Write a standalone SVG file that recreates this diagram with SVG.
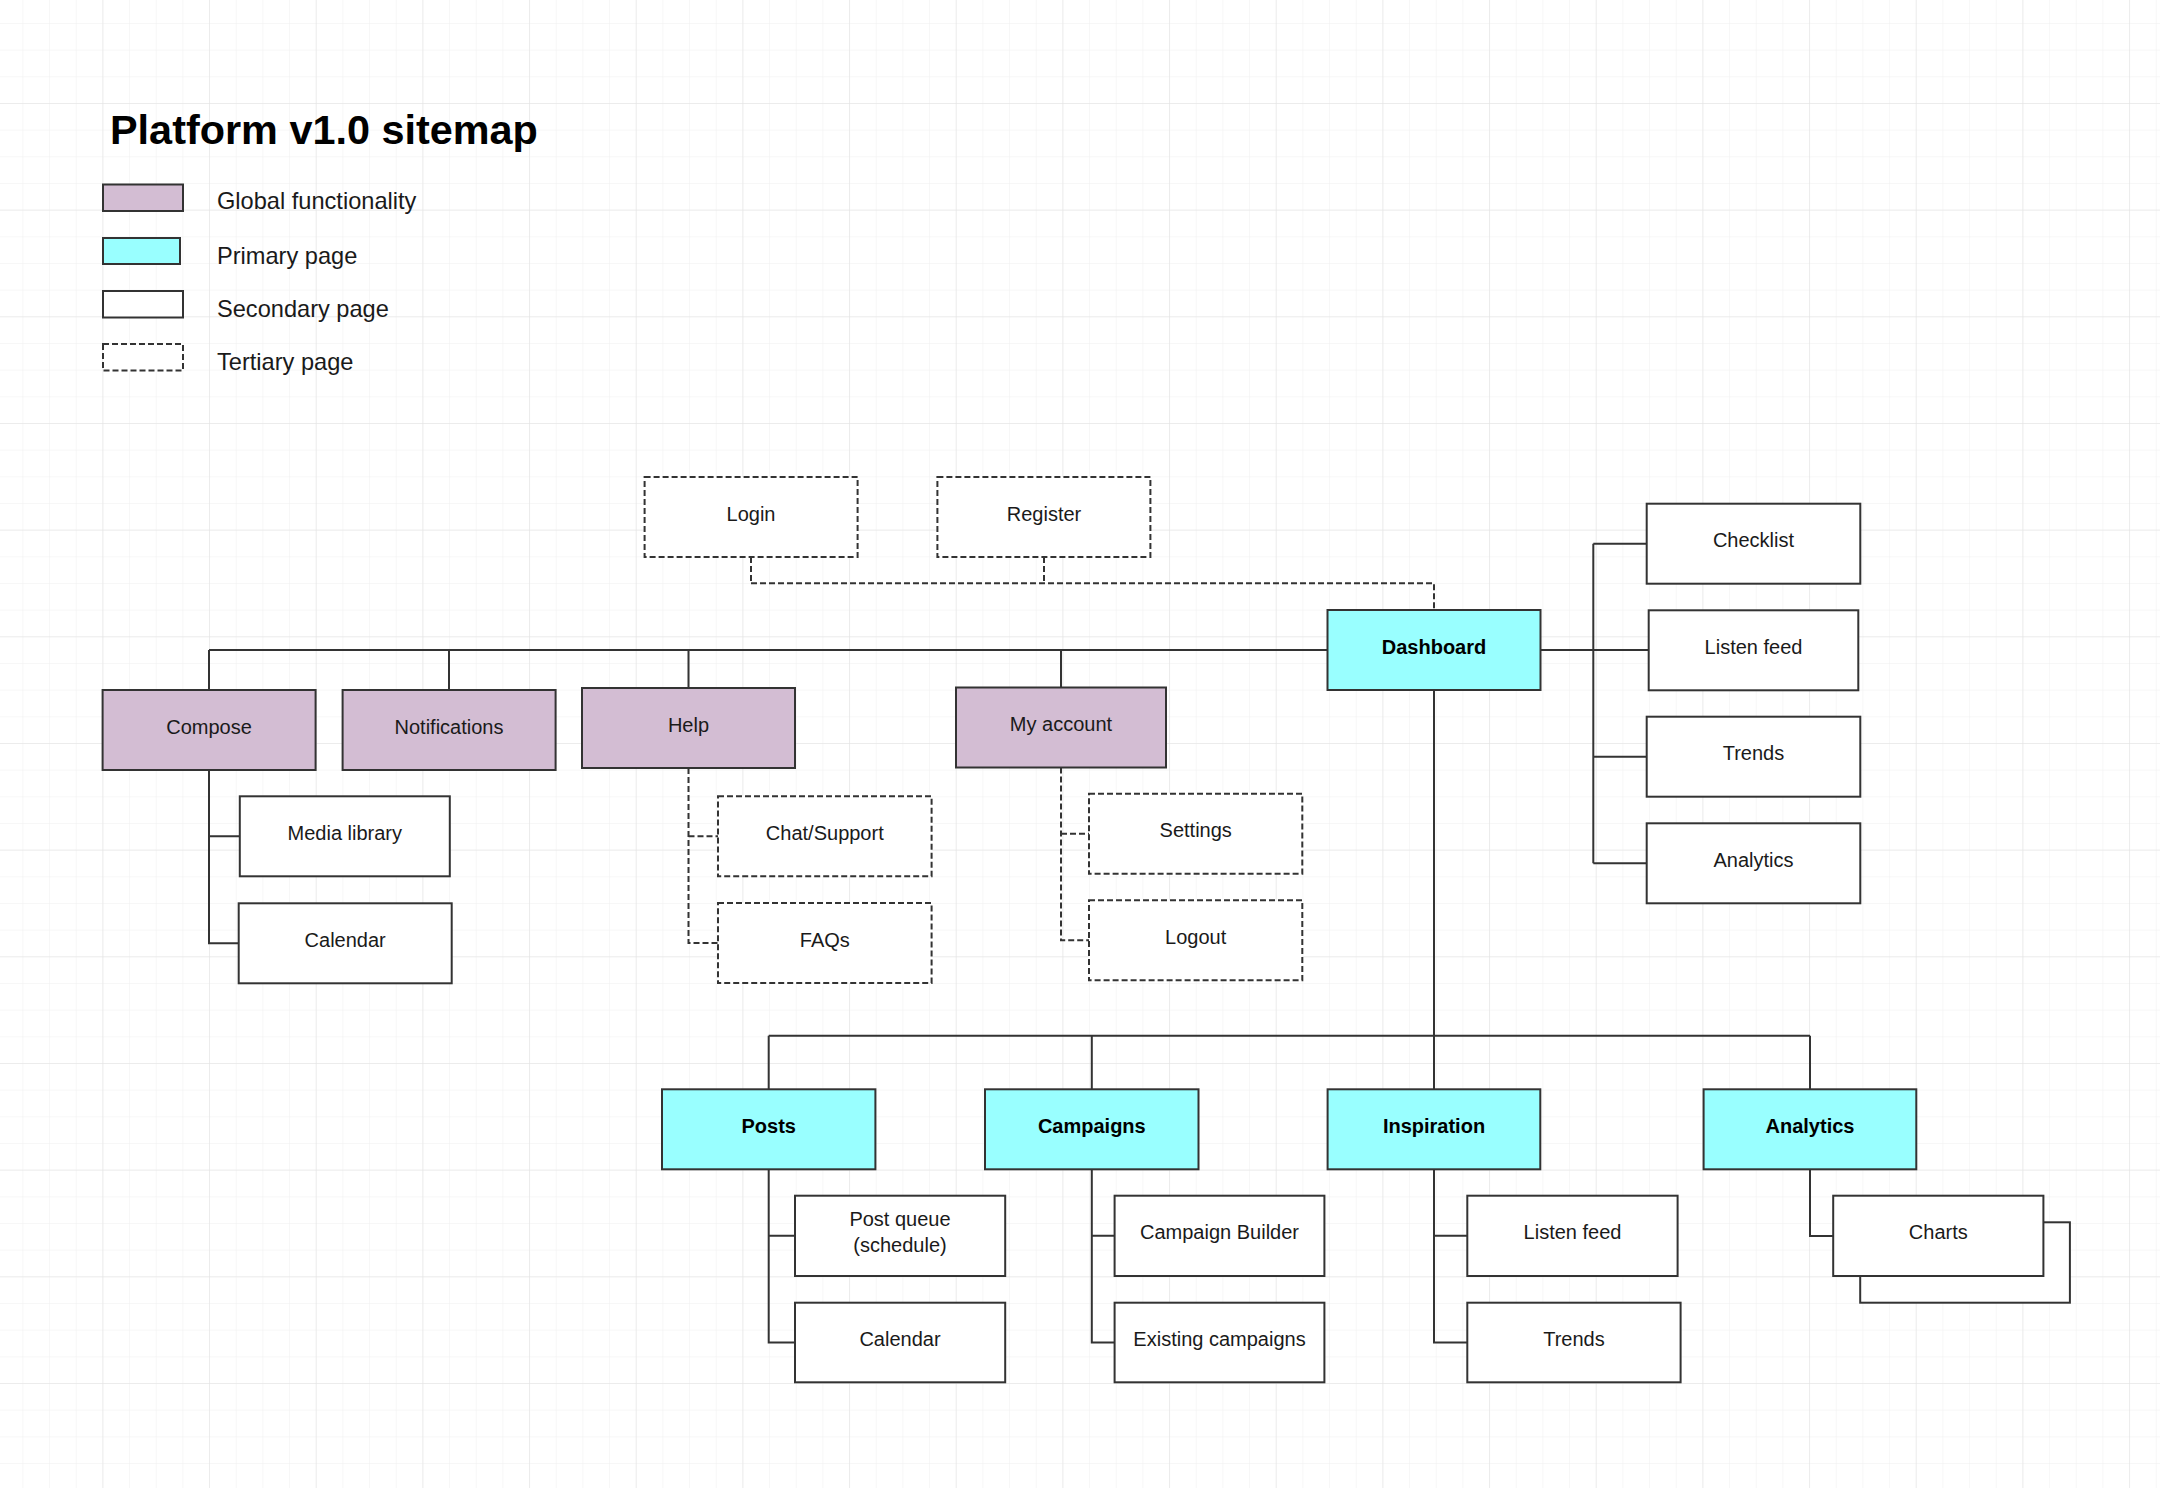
<svg xmlns="http://www.w3.org/2000/svg" width="2160" height="1488" viewBox="0 0 2160 1488">
<style>
.nd{stroke:#333;stroke-width:2}
.global{fill:#d3bdd3}
.primary{fill:#99ffff}
.secondary{fill:#fff}
.tertiary{fill:#fff;stroke-dasharray:6 3}
.lbl{font-family:"Liberation Sans",Arial,sans-serif;font-size:20px;fill:#1a1a1a;text-anchor:middle}
.b{font-weight:bold;fill:#000}
.conn{stroke:#333;stroke-width:2;fill:none}
.dash{stroke-dasharray:6 3}
.leg{font-family:"Liberation Sans",Arial,sans-serif;font-size:23.6px;fill:#1a1a1a}
</style>
<defs>
<pattern id="minor" patternUnits="userSpaceOnUse" x="-3.3" y="-2.7" width="26.667" height="26.667">
<path d="M26.667 0V26.667M0 26.667H26.667" stroke="#f0f0f0" stroke-width="1" fill="none"/>
</pattern>
<pattern id="major" patternUnits="userSpaceOnUse" x="-3.3" y="-2.7" width="106.667" height="106.667">
<path d="M106.667 0V106.667M0 106.667H106.667" stroke="#e2e2e2" stroke-width="1" fill="none"/>
</pattern>
</defs>
<rect width="2160" height="1488" fill="#fff"/>
<rect width="2160" height="1488" fill="url(#minor)"/>
<rect width="2160" height="1488" fill="url(#major)"/>

<g id="title">
<text x="110" y="144" font-family="Liberation Sans, Arial, sans-serif" font-size="41.4" font-weight="bold" fill="#000">Platform v1.0 sitemap</text>
</g>
<g id="legend">
<rect class="nd global" x="103" y="184.5" width="80" height="26.5"/>
<text class="leg" x="217" y="209">Global functionality</text>
<rect class="nd primary" x="103" y="238" width="77" height="26"/>
<text class="leg" x="217" y="263.5">Primary page</text>
<rect class="nd secondary" x="103" y="291" width="80" height="26.5"/>
<text class="leg" x="217" y="316.5">Secondary page</text>
<rect class="nd tertiary" x="103" y="344" width="80" height="26.5"/>
<text class="leg" x="217" y="369.5">Tertiary page</text>
</g>

<g id="connectors">
<path class="conn dash" d="M751 557V583.3M1044 557V583.3M751 583.3H1434V610"/>
<path class="conn" d="M209 650H1327.5M209 650V690M449 650V690M688.5 650V688M1061 650V687.5"/>
<path class="conn" d="M1540.3 650H1648.7M1593.3 543.7V863.3M1593.3 543.7H1646.7M1593.3 756.7H1646.7M1593.3 863.3H1646.7"/>
<path class="conn" d="M1434 690V1089.3M768.7 1035.7H1810M768.7 1035.7V1089.3M1091.8 1035.7V1089.3M1810 1035.7V1089.3"/>
<path class="conn" d="M209 770V943.3H238.7M209 836.3H239.8"/>
<path class="conn dash" d="M688.5 768V943H718M688.5 836.3H718"/>
<path class="conn dash" d="M1061 767.5V940.3H1089M1061 833.7H1089"/>
<path class="conn" d="M768.7 1169.3V1342.5H795M768.7 1235.8H795"/>
<path class="conn" d="M1091.8 1169.3V1342.5H1114.6M1091.8 1235.8H1114.6"/>
<path class="conn" d="M1434 1169.3V1342.5H1467.3M1434 1235.8H1467.3"/>
<path class="conn" d="M1810 1169.3V1236H1833.2"/>
</g>

<g id="login"><rect class="nd tertiary" x="644.6" y="477" width="213" height="80"/><text class="lbl" x="751" y="520.5">Login</text></g>
<g id="register"><rect class="nd tertiary" x="937.4" y="477" width="213" height="80"/><text class="lbl" x="1044" y="520.5">Register</text></g>
<g id="dashboard"><rect class="nd primary" x="1327.5" y="610" width="213" height="80"/><text class="lbl b" x="1434" y="653.5">Dashboard</text></g>

<g id="compose"><rect class="nd global" x="102.6" y="690" width="213" height="80"/><text class="lbl" x="209" y="733.5">Compose</text></g>
<g id="notifications"><rect class="nd global" x="342.6" y="690" width="213" height="80"/><text class="lbl" x="449" y="733.5">Notifications</text></g>
<g id="help"><rect class="nd global" x="582" y="688" width="213" height="80"/><text class="lbl" x="688.5" y="731.5">Help</text></g>
<g id="my-account"><rect class="nd global" x="956" y="687.5" width="210" height="80"/><text class="lbl" x="1061" y="731">My account</text></g>

<g id="media-library"><rect class="nd secondary" x="239.8" y="796.3" width="210" height="80"/><text class="lbl" x="344.8" y="839.8">Media library</text></g>
<g id="calendar-compose"><rect class="nd secondary" x="238.7" y="903.3" width="213" height="80"/><text class="lbl" x="345.2" y="946.8">Calendar</text></g>
<g id="chat-support"><rect class="nd tertiary" x="718" y="796.3" width="213.6" height="80"/><text class="lbl" x="824.8" y="839.8">Chat/Support</text></g>
<g id="faqs"><rect class="nd tertiary" x="718" y="903" width="213.6" height="80"/><text class="lbl" x="824.8" y="946.5">FAQs</text></g>
<g id="settings"><rect class="nd tertiary" x="1089" y="793.7" width="213.3" height="80"/><text class="lbl" x="1195.7" y="837.2">Settings</text></g>
<g id="logout"><rect class="nd tertiary" x="1089" y="900.3" width="213.3" height="80"/><text class="lbl" x="1195.7" y="943.8">Logout</text></g>

<g id="checklist"><rect class="nd secondary" x="1646.7" y="503.7" width="213.6" height="80"/><text class="lbl" x="1753.5" y="547.2">Checklist</text></g>
<g id="listen-feed-top"><rect class="nd secondary" x="1648.7" y="610.3" width="209.6" height="80"/><text class="lbl" x="1753.5" y="653.8">Listen feed</text></g>
<g id="trends-top"><rect class="nd secondary" x="1646.7" y="716.7" width="213.6" height="80"/><text class="lbl" x="1753.5" y="760.2">Trends</text></g>
<g id="analytics-top"><rect class="nd secondary" x="1646.7" y="823.3" width="213.6" height="80"/><text class="lbl" x="1753.5" y="866.8">Analytics</text></g>

<g id="posts"><rect class="nd primary" x="662" y="1089.3" width="213.4" height="80"/><text class="lbl b" x="768.7" y="1132.8">Posts</text></g>
<g id="campaigns"><rect class="nd primary" x="985" y="1089.3" width="213.5" height="80"/><text class="lbl b" x="1091.8" y="1132.8">Campaigns</text></g>
<g id="inspiration"><rect class="nd primary" x="1327.6" y="1089.3" width="212.7" height="80"/><text class="lbl b" x="1434" y="1132.8">Inspiration</text></g>
<g id="analytics"><rect class="nd primary" x="1703.6" y="1089.3" width="212.7" height="80"/><text class="lbl b" x="1810" y="1132.8">Analytics</text></g>

<g id="post-queue"><rect class="nd secondary" x="795" y="1195.7" width="210.2" height="80.3"/><text class="lbl" x="900" y="1226">Post queue</text><text class="lbl" x="900" y="1252">(schedule)</text></g>
<g id="calendar-posts"><rect class="nd secondary" x="795" y="1302.7" width="210.2" height="79.6"/><text class="lbl" x="900" y="1346">Calendar</text></g>
<g id="campaign-builder"><rect class="nd secondary" x="1114.6" y="1195.7" width="209.8" height="80.3"/><text class="lbl" x="1219.5" y="1239.3">Campaign Builder</text></g>
<g id="existing-campaigns"><rect class="nd secondary" x="1114.6" y="1302.7" width="209.8" height="79.6"/><text class="lbl" x="1219.5" y="1346">Existing campaigns</text></g>
<g id="listen-feed"><rect class="nd secondary" x="1467.3" y="1195.7" width="210.3" height="80.3"/><text class="lbl" x="1572.5" y="1239.3">Listen feed</text></g>
<g id="trends"><rect class="nd secondary" x="1467.3" y="1302.7" width="213.3" height="79.6"/><text class="lbl" x="1574" y="1346">Trends</text></g>
<g id="charts"><rect class="nd secondary" x="1860.2" y="1222.3" width="209.7" height="80.4"/><rect class="nd secondary" x="1833.2" y="1195.7" width="210.2" height="80.3"/><text class="lbl" x="1938.3" y="1239.3">Charts</text></g>
</svg>
